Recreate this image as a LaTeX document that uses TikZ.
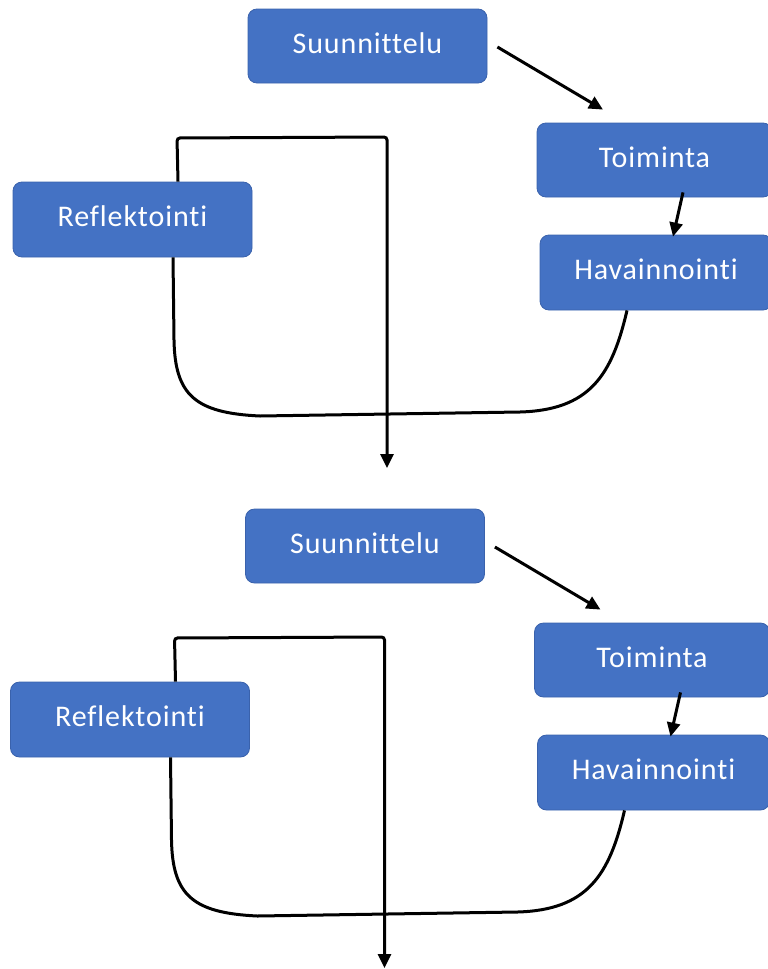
\documentclass[tikz,border=0pt]{standalone}
\usepackage{fontspec}
\setmainfont[Ligatures=NoCommon, LetterSpace=3]{Carlito}
\usetikzlibrary{arrows.meta,calc}
\definecolor{boxblue}{HTML}{4472C4}
\definecolor{boxedge}{HTML}{3A62AC}
\begin{document}
\begin{tikzpicture}[x=1pt,y=-1pt,
  procbox/.style={draw=boxedge, line width=0.8pt, fill=boxblue, rounded corners=9pt,
    text=white, font=\fontsize{30}{36}\selectfont, inner sep=0pt,
    text height=22pt, text depth=8pt},
  flow/.style={line width=3pt, black},
  tip/.style={-{Triangle[length=14pt,width=13pt]}}]
\useasboundingbox (0,0) rectangle (768,969);
\foreach \dx/\dy/\k in {0/0/a, -2.5/500/b} {
  \begin{scope}[shift={(\dx,\dy)}]
    \node[procbox, minimum width=239pt, minimum height=74pt] (sun\k) at (367.5,46) {Suunnittelu};
    \node[procbox, minimum width=235pt, minimum height=74pt] (toi\k) at (654.5,160) {Toiminta};
    \node[procbox, minimum width=232pt, minimum height=75pt] (hav\k) at (656,272.5) {Havainnointi};
    \node[procbox, minimum width=239pt, minimum height=75pt] (ref\k) at (132.5,219.5) {Reflektointi};
    \coordinate (end\k) at (387,468);
    \draw[flow, tip] ($(sun\k.east)+(10,1)$) -- ($(toi\k.north)+(-51.5,-13)$);
    \draw[flow, tip] ($(toi\k.south)+(28.5,-5)$) -- ($(hav\k.north)+(17,2)$);
    \draw[flow] ($(hav\k.south)+(-29,0)$) .. controls (612,375) and (590,410) .. (520,412)
      -- (260,416) .. controls (195,413) and (175,395) .. (174,340)
      -- ($(ref\k.south)+(40.5,0)$);
    \draw[flow, tip, rounded corners=3pt] ($(ref\k.north)+(45.5,0)$) -- (177,138) -- (387,137) -- (end\k);
  \end{scope}
}
\end{tikzpicture}
\end{document}
